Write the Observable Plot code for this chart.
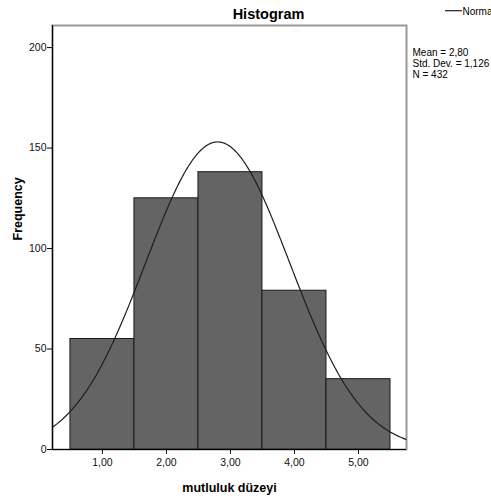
<!DOCTYPE html>
<html>
<head>
<meta charset="utf-8">
<script src="https://cdn.jsdelivr.net/npm/d3@7"></script>
<script src="https://cdn.jsdelivr.net/npm/@observablehq/plot@0.6"></script>
<style>
  html, body { margin: 0; padding: 0; background: #fff; overflow: hidden; }
  #chart { width: 491px; height: 501px; overflow: hidden; }
</style>
</head>
<body>
<div id="chart"></div>
<script>
// ---- data ----
const binCenters = [1, 2, 3, 4, 5];
const frequencies = [55, 125, 138, 79, 35];
const xTickLabels = ["1,00", "2,00", "3,00", "4,00", "5,00"];
const yTicks = [0, 50, 100, 150, 200];
const statMean = 2.80;
const statSD = 1.126;
const statN = 432;
const binWidth = 1;
const statsText = ["Mean = 2,80", "Std. Dev. = 1,126", "N = 432"];

// ---- derived tables ----
const bars = binCenters.map((c, i) => ({x1: c - binWidth / 2, x2: c + binWidth / 2, y: frequencies[i]}));
const xDomain = [0.22, 5.75];
// fitted normal curve (as drawn by SPSS from Mean / Std. Dev. / N)
const curve = d3.range(xDomain[0], xDomain[1] + 1e-9, 0.02).map(x => ({
  x,
  y: statN * binWidth / (statSD * Math.sqrt(2 * Math.PI)) * Math.exp(-0.5 * ((x - statMean) / statSD) ** 2)
}));

const font = "'Liberation Sans', Arial, sans-serif";

const chart = Plot.plot({
  width: 491,
  height: 501,
  marginTop: 25,
  marginBottom: 52,
  marginLeft: 52,
  marginRight: 85,
  style: {fontFamily: font, background: "#fff", color: "#111"},
  x: {domain: xDomain},
  y: {domain: [0, 211]},
  marks: [
    Plot.frame({stroke: "#9a9a9a", strokeWidth: 2}),
    Plot.rectY(bars, {x1: "x1", x2: "x2", y: "y", fill: "#646464", stroke: "#1a1a1a", strokeWidth: 1}),
    Plot.line(curve, {x: "x", y: "y", stroke: "#1e1e1e", strokeWidth: 1.2, curve: "linear"}),
    Plot.ruleX([xDomain[0]], {stroke: "#000", strokeWidth: 1.2}),
    Plot.ruleY([0], {stroke: "#000", strokeWidth: 1.2}),
    Plot.axisY({ticks: yTicks, tickSize: 5, tickPadding: 1, label: null, fontSize: 10.5, stroke: "#000"}),
    Plot.axisX({ticks: binCenters, tickSize: 5, tickPadding: 4, label: null, fontSize: 10.5,
      tickFormat: d => xTickLabels[binCenters.indexOf(d)]}),
    Plot.text(["Histogram"], {frameAnchor: "top", dx: 39, dy: -6.5, lineAnchor: "bottom",
      fontSize: 14.5, fontWeight: "bold", fill: "#000"}),
    Plot.text(["mutluluk düzeyi"], {frameAnchor: "bottom", dy: 38, lineAnchor: "middle",
      fontSize: 12.5, fontWeight: "bold", fill: "#000"}),
    Plot.text(["Frequency"], {frameAnchor: "left", dx: -35, dy: 3, rotate: -90, lineAnchor: "middle",
      fontSize: 12.5, fontWeight: "bold", fill: "#000"}),
    Plot.text([statsText.join("\n")], {frameAnchor: "top-right", dx: 6, dy: 23, textAnchor: "start",
      lineAnchor: "top", lineHeight: 1.1, fontSize: 10, fill: "#000"})
  ]
});
document.getElementById("chart").appendChild(chart);

// legend (top right)
const svg = d3.select(chart);
svg.append("line").attr("x1", 445).attr("x2", 462).attr("y1", 10.7).attr("y2", 10.7)
  .attr("stroke", "#1e1e1e").attr("stroke-width", 1.2);
svg.append("text").attr("x", 462.5).attr("y", 14.5).attr("font-size", 10)
  .attr("text-anchor", "start")
  .attr("font-family", font).attr("fill", "#000").text("Normal");
</script>
</body>
</html>
